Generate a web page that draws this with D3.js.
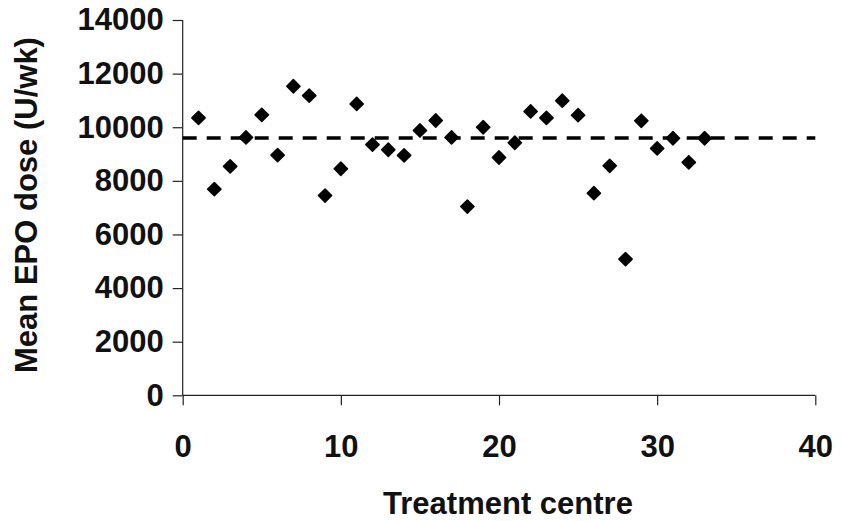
<!DOCTYPE html>
<html>
<head>
<meta charset="utf-8">
<script src="https://cdn.jsdelivr.net/npm/d3@7"></script>
<style>
  body { margin: 0; background: #fff; }
  svg text { font-family: "Liberation Sans", Arial, sans-serif; font-weight: bold; fill: #111; }
</style>
</head>
<body>
<svg id="chart" width="842" height="521"></svg>
<script>
// treatment centres 1..33 and their mean EPO dose (U/wk)
const centres = [1, 2, 3, 4, 5, 6, 7, 8, 9, 10, 11, 12, 13, 14, 15, 16, 17,
  18, 19, 20, 21, 22, 23, 24, 25, 26, 27, 28, 29, 30, 31, 32, 33];
const doses = [10350, 7690, 8540, 9620, 10460, 8960, 11530, 11180, 7450, 8450,
  10870, 9350, 9160, 8950, 9880, 10250, 9620, 7040, 10000, 8870,
  9420, 10590, 10350, 10990, 10450, 7540, 8560, 5080, 10240, 9210,
  9590, 8690, 9590];
const meanDose = 9600;
const xTicks = [0, 10, 20, 30, 40];
const yTicks = [0, 2000, 4000, 6000, 8000, 10000, 12000, 14000];

const svg = d3.select("#chart");

const x = d3.scaleLinear().domain([0, 40]).range([182.7, 815.3]);
const y = d3.scaleLinear().domain([0, 14000]).range([395.3, 20]);

// y axis
const yAxis = svg.append("g")
  .attr("class", "y-axis")
  .attr("transform", `translate(${x(0)},0)`)
  .call(d3.axisLeft(y).tickValues(yTicks).tickSize(10).tickPadding(9).tickFormat(d3.format("d")));
yAxis.selectAll("text").style("font-size", "31px").attr("fill", "#111");

// x axis
const xAxis = svg.append("g")
  .attr("class", "x-axis")
  .attr("transform", `translate(0,${y(0)})`)
  .call(d3.axisBottom(x).tickValues(xTicks).tickSize(10).tickPadding(30));
xAxis.selectAll("text").style("font-size", "31px").attr("fill", "#111");

svg.selectAll(".domain, .tick line")
  .attr("stroke", "#222")
  .attr("stroke-width", 1.2);
// no end caps on the axis lines
yAxis.select(".domain").attr("d", `M0,${y(14000)}V${y(0)}`);
xAxis.select(".domain").attr("d", `M${x(0)},0H${x(40)}`);

// mean dashed line
svg.append("line")
  .attr("x1", x(0)).attr("x2", x(40))
  .attr("y1", y(meanDose)).attr("y2", y(meanDose))
  .attr("stroke", "#000")
  .attr("stroke-width", 3.5)
  .attr("stroke-dasharray", "14,10");

// points
const diamond = d3.symbol().type(d3.symbolSquare).size(88);
svg.append("g").selectAll("path")
  .data(centres)
  .enter().append("path")
  .attr("d", diamond)
  .attr("transform", (d, i) => `translate(${x(d)},${y(doses[i])}) rotate(45)`)
  .attr("fill", "#000")
  .attr("stroke", "#000")
  .attr("stroke-width", 1.5)
  .attr("stroke-linejoin", "round");

// axis titles
svg.append("text")
  .attr("x", 508)
  .attr("y", 514)
  .attr("text-anchor", "middle")
  .style("font-size", "31px")
  .text("Treatment centre");

svg.append("text")
  .attr("transform", "translate(37,205) rotate(-90)")
  .attr("text-anchor", "middle")
  .style("font-size", "31px")
  .text("Mean EPO dose (U/wk)");
</script>
</body>
</html>
